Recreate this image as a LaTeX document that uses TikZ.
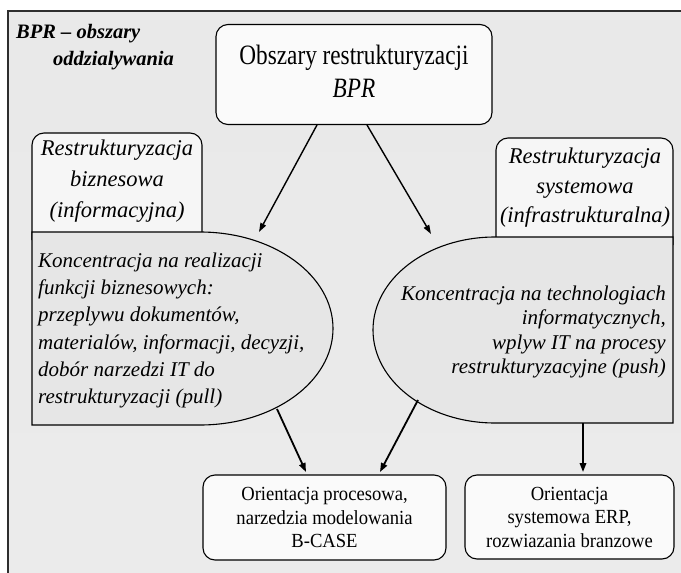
\documentclass[tikz,border=0pt]{standalone}
\usepackage{fontspec}
\setmainfont{Liberation Serif}
\newfontfamily\narrowserif{Liberation Serif}[FakeStretch=0.83]
\newfontfamily\boxserif{Liberation Serif}[FakeStretch=0.93]
\usetikzlibrary{arrows.meta}
\definecolor{bgtop}{HTML}{E9E9E9}
\definecolor{bgmid}{HTML}{F6F6F6}
\definecolor{bgbot}{HTML}{EBEBEB}
\definecolor{framedark}{HTML}{2E2E2E}
\definecolor{blobgray}{HTML}{E6E6E6}
\definecolor{tabfill}{HTML}{F6F6F6}
\definecolor{boxfill}{HTML}{FAFAFA}
\begin{document}
\begin{tikzpicture}[x=1pt,y=1pt,
  outline/.style={draw=black, line width=1.1pt},
  box/.style={outline, fill=boxfill, rounded corners=12pt, inner sep=0pt},
  tab/.style={outline, fill=tabfill, rounded corners=12pt},
  blob/.style={outline, fill=blobgray},
  boxtext/.style={align=center, inner sep=0pt, font=\boxserif\fontsize{20}{23.5}\selectfont},
  italictext/.style={inner sep=0pt, font=\fontsize{21}{27.3}\selectfont\itshape},
  link/.style={-{Triangle[length=9pt,width=6.5pt]}, line width=1.8pt},
  thinlink/.style={-{Triangle[length=9pt,width=6pt]}, line width=1.4pt}]
\useasboundingbox (0,0) rectangle (681,-573);
\fill[white] (0,0) rectangle (681,-573);
% panel background and its frame
\shade[top color=bgtop, middle color=bgmid, bottom color=bgbot] (8,-11) rectangle (681,-573);
\draw[line width=2pt, draw=framedark] (8,-573) -- (8,-11) -- (681,-11);

\node[anchor=north west, inner sep=0pt, align=left,
      font=\fontsize{20.5}{26.5}\selectfont\bfseries\itshape] (title) at (16,-24.5)
  {BPR -- obszary\\\hspace*{37pt}oddzialywania};

% top box
\node[box, minimum width=276pt, minimum height=100pt] (bpr) at (354,-74.5) {};
\node[anchor=north, align=center, inner sep=0pt, font=\narrowserif\fontsize{28}{33}\selectfont] (bprtext) at (354,-45)
  {Obszary restrukturyzacji\\\textit{BPR}};

% tabs behind the grey areas
\draw[tab] (32,-240) |- (202,-133) -- (202,-240);
\draw[tab] (496,-245) |- (673,-138) -- (673,-245);

% grey areas: rectangle merged with a half ellipse
\draw[blob] (32,-232) -- (200,-232)
  arc[start angle=90, end angle=-90, x radius=133pt, y radius=96.5pt]
  -- (32,-425) -- cycle;
\draw[blob] (673,-237) -- (495,-237)
  arc[start angle=90, end angle=270, x radius=122pt, y radius=93pt]
  -- (673,-423) -- cycle;

\node[italictext, anchor=north, align=center, font=\fontsize{22.5}{31}\selectfont\itshape] (tabl) at (117,-140)
  {Restrukturyzacja\\biznesowa\\(informacyjna)};
\node[italictext, anchor=north, align=center, font=\fontsize{22.5}{29.5}\selectfont\itshape] (tabr) at (585,-148)
  {Restrukturyzacja\\systemowa\\(infrastrukturalna)};

\node[italictext, anchor=north west, align=left] (blobltext) at (38,-252.5)
  {Koncentracja na realizacji\\funkcji biznesowych:\\przeplywu dokumentów,\\materialów, informacji, decyzji,\\dobór narzedzi IT do\\restrukturyzacji (pull)};
\node[italictext, anchor=north east, align=right, font=\fontsize{21}{24.5}\selectfont\itshape] (blobrtext) at (666,-285.5)
  {Koncentracja na technologiach\\informatycznych,\\wplyw IT na procesy\\restrukturyzacyjne (push)};

% bottom boxes
\node[box, boxtext, minimum width=243pt, minimum height=85pt] (proc) at (324.5,-517.5)
  {Orientacja procesowa,\\narzedzia modelowania\\B-CASE};
\node[box, boxtext, minimum width=209pt, minimum height=84pt] (erp) at (569.5,-517)
  {Orientacja\\systemowa ERP,\\rozwiazania branzowe};

% connector end points
\coordinate (a1s) at (317,-125);
\coordinate (a1e) at (259,-232);
\coordinate (a2s) at (367,-125);
\coordinate (a2e) at (431,-234);
\coordinate (a3s) at (277,-409);
\coordinate (a3e) at (306,-472);
\coordinate (a4s) at (418,-400);
\coordinate (a4e) at (380,-472);
\coordinate (a5s) at (583,-423);
\coordinate (a5e) at (583,-472);

\draw[thinlink] (a1s) -- (a1e);
\draw[thinlink] (a2s) -- (a2e);
\draw[link] (a3s) -- (a3e);
\draw[link] (a4s) -- (a4e);
\draw[link] (a5s) -- (a5e);
\end{tikzpicture}
\end{document}
